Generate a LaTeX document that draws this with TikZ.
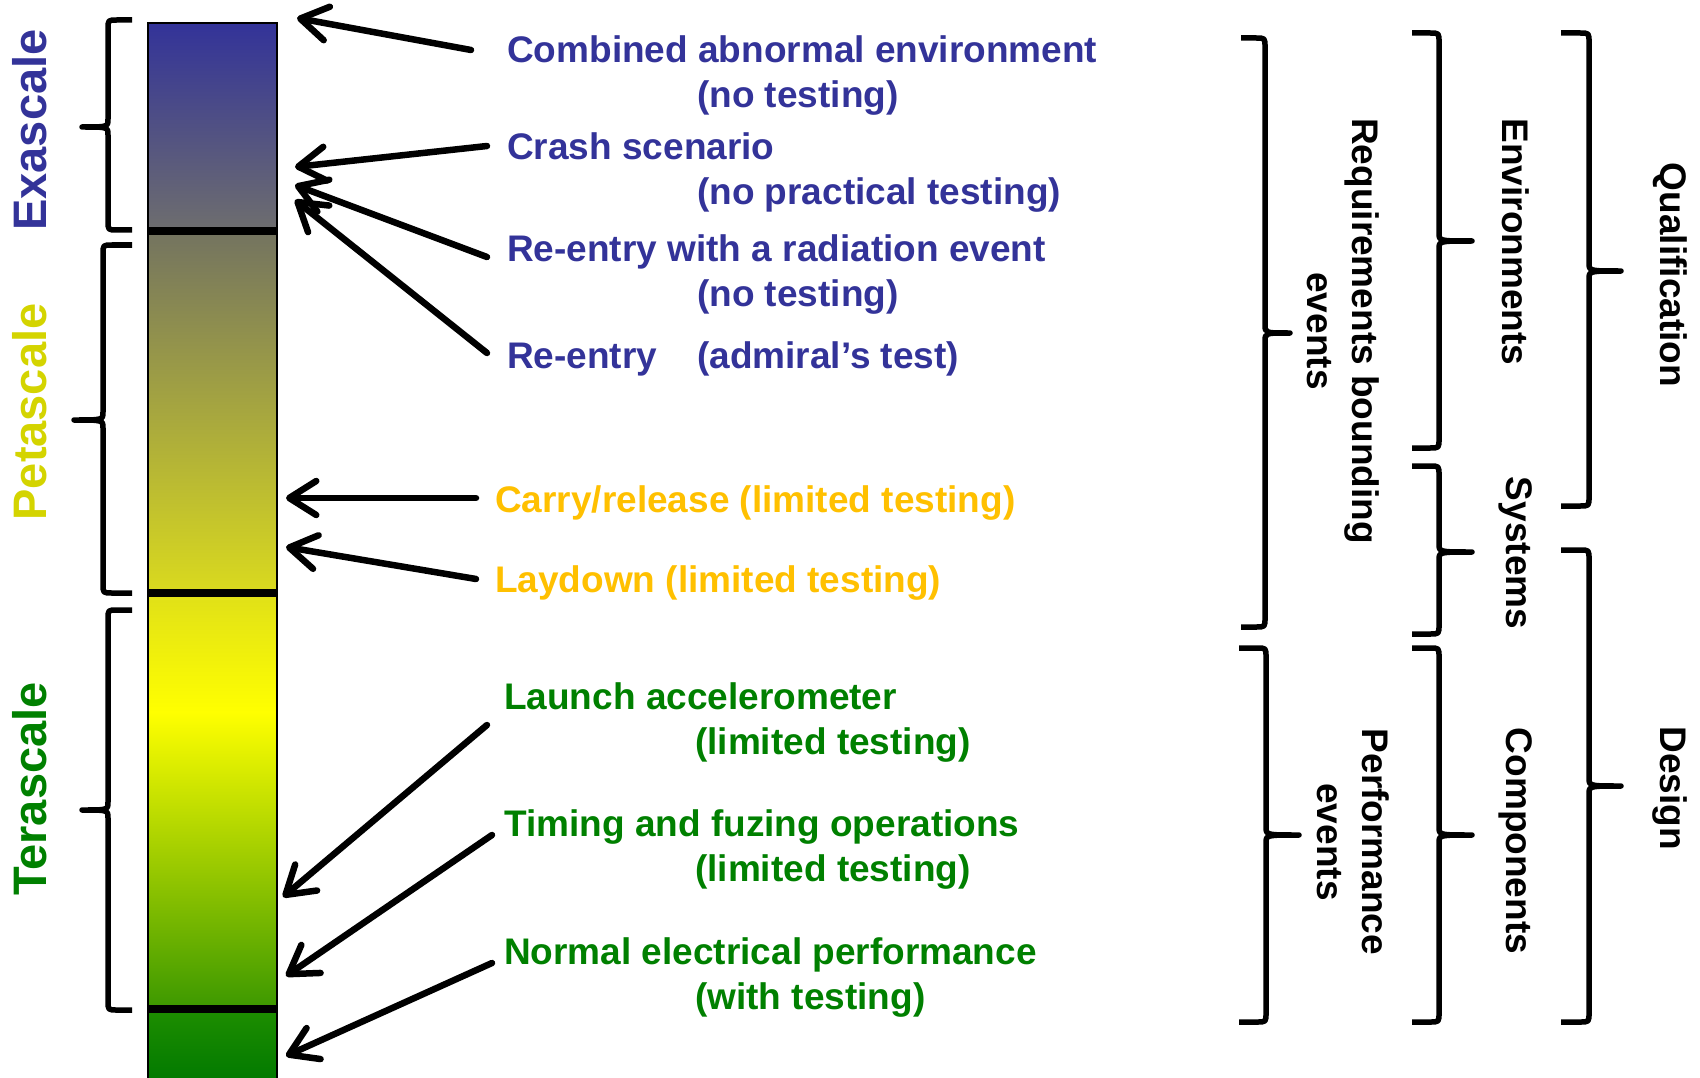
\documentclass[tikz,border=0pt]{standalone}
\usepackage{fontspec}
\setmainfont{Liberation Sans}
\usetikzlibrary{arrows.meta}
\definecolor{cblue}{HTML}{333399}
\definecolor{corange}{HTML}{FFC000}
\definecolor{cgreen}{HTML}{008000}
\definecolor{cyell}{HTML}{D4D400}
\definecolor{gA}{HTML}{333399}
\definecolor{gB}{HTML}{6E6E6E}
\definecolor{gC}{HTML}{737360}
\definecolor{gD}{HTML}{DADA1E}
\definecolor{gE}{HTML}{E0E018}
\definecolor{gF}{HTML}{FFFF00}
\definecolor{gG}{HTML}{3C9800}
\definecolor{gH}{HTML}{1E8E00}
\definecolor{gI}{HTML}{007800}
% left-facing brace "{" : xe, xv, xs, ytop, ytip, ybottom
\newcommand{\BrL}[6]{%
  \draw[brc] (#1,#4) -- ({#2+9},#4) .. controls (#2,#4) .. (#2,{#4+9})
    -- (#2,{#5-8}) .. controls (#2,#5) .. (#3,#5)
    .. controls (#2,#5) .. (#2,{#5+8})
    -- (#2,{#6-9}) .. controls (#2,#6) .. ({#2+9},#6) -- (#1,#6);}
% right-facing brace "}" : xe, xv, xs, ytop, ytip, ybottom
\newcommand{\BrR}[6]{%
  \draw[brc] (#1,#4) -- ({#2-9},#4) .. controls (#2,#4) .. (#2,{#4+9})
    -- (#2,{#5-8}) .. controls (#2,#5) .. (#3,#5)
    .. controls (#2,#5) .. (#2,{#5+8})
    -- (#2,{#6-9}) .. controls (#2,#6) .. ({#2-9},#6) -- (#1,#6);}
\begin{document}
\begin{tikzpicture}[x=1pt,y=-1pt,
  lbl/.style={font=\fontsize{37}{45}\selectfont\bfseries, inner sep=0pt, anchor=base west, align=left},
  scl/.style={font=\fontsize{47}{50}\selectfont\bfseries, rotate=90, inner sep=0pt},
  rl/.style={font=\fontsize{37}{45}\selectfont\bfseries, rotate=-90, inner sep=0pt, align=center},
  arr/.style={line width=6.5pt, line cap=round, line join=round, -{Straight Barb[length=27pt,width=34pt,round]}},
  brc/.style={line width=5.5pt, line join=round},
  dv/.style={line width=8pt}]
\useasboundingbox[fill=white] (0,0) rectangle (1700,1078);

% colour bar
\shade[top color=gA, bottom color=gB] (148,23) rectangle (277,231);
\shade[top color=gC, bottom color=gD] (148,231) rectangle (277,593);
\shade[top color=gE, bottom color=gF] (148,593) rectangle (277,712);
\shade[top color=gF, bottom color=gG] (148,712) rectangle (277,1009);
\shade[top color=gH, bottom color=gI] (148,1009) rectangle (277,1085);
\draw[dv] (148,231) -- (277,231);
\draw[dv] (148,593) -- (277,593);
\draw[dv] (148,1009) -- (277,1009);
\draw[line width=2.5pt] (148,1090) -- (148,23) -- (277,23) -- (277,1090);

% scale labels
\node[scl, text=cblue] (ex) at (30,130) {Exascale};
\node[scl, text=cyell] (pe) at (30,412) {Petascale};
\node[scl, text=cgreen] (te) at (30,789) {Terascale};

% left braces
\BrL{132}{108}{82}{20}{127}{230}
\BrL{132}{103}{74}{245}{420}{593}
\BrL{132}{108}{82}{610}{810}{1010}

% event labels (base anchor = baseline of last line)
\node[lbl, text=cblue] (n1) at (507,108) {Combined abnormal environment\\\hspace*{190pt}(no testing)};
\node[lbl, text=cblue] (n2) at (507,205) {Crash scenario\\\hspace*{190pt}(no practical testing)};
\node[lbl, text=cblue] (n3) at (507,306) {Re-entry with a radiation event\\\hspace*{190pt}(no testing)};
\node[lbl, text=cblue] (n4) at (507,368) {\makebox[190pt][l]{Re-entry}(admiral’s test)};
\node[lbl, text=corange] (n5) at (495,512) {Carry/release (limited testing)};
\node[lbl, text=corange] (n6) at (495,592) {Laydown (limited testing)};
\node[lbl, text=cgreen] (n7) at (504,754) {Launch accelerometer\\\hspace*{191pt}(limited testing)};
\node[lbl, text=cgreen] (n8) at (504,881) {Timing and fuzing operations\\\hspace*{191pt}(limited testing)};
\node[lbl, text=cgreen] (n9) at (504,1009) {Normal electrical performance\\\hspace*{191pt}(with testing)};

% arrows
\coordinate (a1s) at (471,50);  \coordinate (a1t) at (297,18);
\coordinate (a2s) at (487,146); \coordinate (a2t) at (295,167);
\coordinate (a3s) at (487,257); \coordinate (a3t) at (295,185);
\coordinate (a4s) at (487,353); \coordinate (a4t) at (295,200);
\coordinate (a5s) at (476,498); \coordinate (a5t) at (286,498);
\coordinate (a6s) at (476,579); \coordinate (a6t) at (286,547);
\coordinate (a7s) at (487,725); \coordinate (a7t) at (283,897);
\coordinate (a8s) at (492,835); \coordinate (a8t) at (286,976);
\coordinate (a9s) at (492,963); \coordinate (a9t) at (286,1056);
\draw[arr] (a1s) -- (a1t);
\draw[arr] (a2s) -- (a2t);
\draw[arr] (a3s) -- (a3t);
\draw[arr] (a4s) -- (a4t);
\draw[arr] (a5s) -- (a5t);
\draw[arr] (a6s) -- (a6t);
\draw[arr] (a7s) -- (a7t);
\draw[arr] (a8s) -- (a8t);
\draw[arr] (a9s) -- (a9t);

% right braces
\BrR{1241}{1265}{1290}{38}{333}{627}
\BrR{1239}{1266}{1299}{648}{835}{1022}
\BrR{1412}{1439}{1472}{33}{241}{448}
\BrR{1412}{1439}{1472}{466}{552}{634}
\BrR{1412}{1439}{1472}{648}{835}{1022}
\BrR{1561}{1589}{1621}{33}{271}{506}
\BrR{1561}{1589}{1621}{550}{786}{1022}

% right labels
\node[rl] (rq) at (1343,331) {Requirements bounding\\events};
\node[rl] (en) at (1516,242) {Environments};
\node[rl] (sy) at (1516,553) {Systems};
\node[rl] (qu) at (1670,275) {Qualification};
\node[rl] (pf) at (1353,842) {Performance\\events};
\node[rl] (co) at (1516,841) {Components};
\node[rl] (de) at (1670,788) {Design};
\end{tikzpicture}
\end{document}
